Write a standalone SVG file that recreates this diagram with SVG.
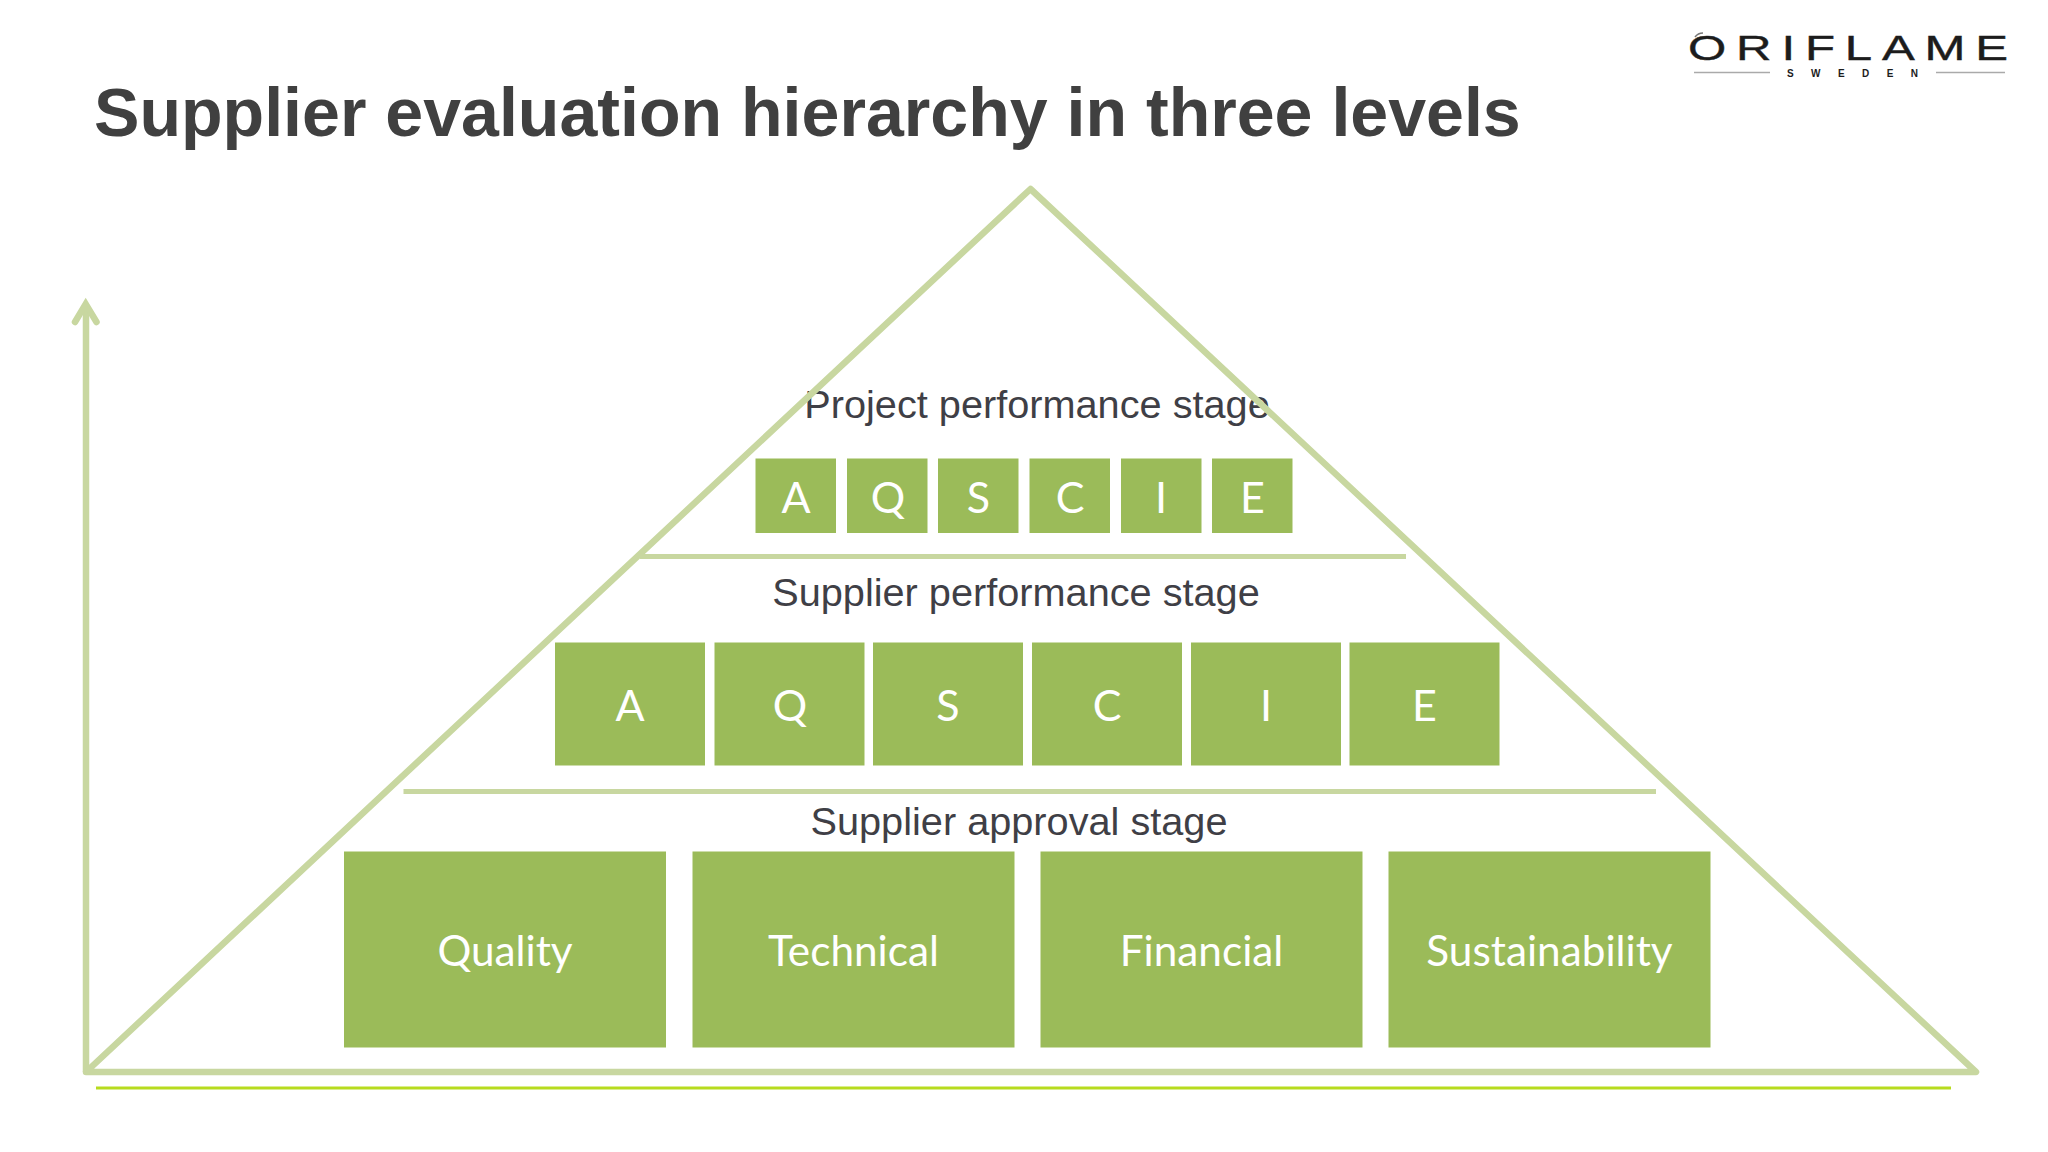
<svg xmlns="http://www.w3.org/2000/svg" width="2048" height="1152" viewBox="0 0 2048 1152">
<style>
.ln{fill:none;stroke:#c8d7a0;stroke-width:6.500;stroke-linejoin:round;stroke-linecap:round}
.dv{fill:none;stroke:#c8d7a0;stroke-width:5}
.box{fill:#9bbb59}
.lab{font-family:"Lato","Liberation Sans",sans-serif;fill:#fff;text-anchor:middle;font-weight:400}
.l1{font-size:43px}.l2{font-size:42.300px}
.st{font-family:"Liberation Sans",Arial,sans-serif;font-size:39.700px;fill:#3f3f46;text-anchor:middle}
.logo{font-family:"Liberation Sans",Arial,sans-serif;fill:#1c1c1c}
</style>
<rect width="2048" height="1152" fill="#fff"/>
<text id="title" x="94" y="135.500" font-family="'Liberation Sans',Arial,sans-serif" font-weight="700" font-size="68.100px" fill="#404040">Supplier evaluation hierarchy in three levels</text>
<g id="logo">
<text class="logo" x="1688" y="60" font-size="35px" letter-spacing="7" textLength="330" lengthAdjust="spacingAndGlyphs" stroke="#1c1c1c" stroke-width="0.400">ORIFLAME</text>
<text class="logo" x="1787" y="77" font-size="10px" textLength="131" lengthAdjust="spacing" fill="#666" font-weight="700">SWEDEN</text>
<path d="M1694 72.500H1770M1936 72.500H2005" stroke="#aaa" stroke-width="1.500" fill="none"/>
<path d="M1695 37Q1698 33 1703 33" stroke="#777" stroke-width="1.500" fill="none"/>
</g>
<g id="stage-labels">
<text class="st" x="1037" y="418">Project performance stage</text>
<text class="st" x="1016" y="605.500">Supplier performance stage</text>
<text class="st" x="1019" y="835">Supplier approval stage</text>
</g>
<g id="connectors">
<path id="axis" class="ln" style="stroke-linecap:butt" d="M86 1072V306"/>
<path id="axis-head" d="M75 322L85.700 304L96.500 322" fill="none" stroke="#c8d7a0" stroke-width="6.500" stroke-linejoin="miter" stroke-linecap="round"/>
<path id="pyramid" class="ln" d="M1030.500 189L1976 1072H86Z"/>
<path id="divider-top" class="dv" d="M640 556.500H1406"/>
<path id="divider-mid" class="dv" d="M403.500 791.500H1656"/>
<path id="ground" d="M96 1088H1951" stroke="#b7db1e" stroke-width="3" fill="none"/>
</g>
<g id="top-A"><rect class="box" x="755.500" y="458.500" width="80.500" height="74.500"/><text class="lab l1" x="796" y="513">A</text></g>
<g id="top-Q"><rect class="box" x="847" y="458.500" width="80.500" height="74.500"/><text class="lab l1" x="888" y="513">Q</text></g>
<g id="top-S"><rect class="box" x="938" y="458.500" width="80.500" height="74.500"/><text class="lab l1" x="978.500" y="513">S</text></g>
<g id="top-C"><rect class="box" x="1029.500" y="458.500" width="80.500" height="74.500"/><text class="lab l1" x="1070" y="513">C</text></g>
<g id="top-I"><rect class="box" x="1121" y="458.500" width="80.500" height="74.500"/><text class="lab l1" x="1161" y="513">I</text></g>
<g id="top-E"><rect class="box" x="1212" y="458.500" width="80.500" height="74.500"/><text class="lab l1" x="1252.500" y="513">E</text></g>
<g id="mid-A"><rect class="box" x="555" y="642.500" width="150" height="123"/><text class="lab l1" x="630" y="721">A</text></g>
<g id="mid-Q"><rect class="box" x="714.500" y="642.500" width="150" height="123"/><text class="lab l1" x="790" y="721">Q</text></g>
<g id="mid-S"><rect class="box" x="873" y="642.500" width="150" height="123"/><text class="lab l1" x="948" y="721">S</text></g>
<g id="mid-C"><rect class="box" x="1032" y="642.500" width="150" height="123"/><text class="lab l1" x="1107" y="721">C</text></g>
<g id="mid-I"><rect class="box" x="1191" y="642.500" width="150" height="123"/><text class="lab l1" x="1266" y="721">I</text></g>
<g id="mid-E"><rect class="box" x="1349.500" y="642.500" width="150" height="123"/><text class="lab l1" x="1424.500" y="721">E</text></g>
<g id="base-quality"><rect class="box" x="344" y="851.500" width="322" height="196"/><text class="lab l2" x="505" y="966">Quality</text></g>
<g id="base-technical"><rect class="box" x="692.500" y="851.500" width="322" height="196"/><text class="lab l2" x="853.500" y="966">Technical</text></g>
<g id="base-financial"><rect class="box" x="1040.500" y="851.500" width="322" height="196"/><text class="lab l2" x="1201.500" y="966">Financial</text></g>
<g id="base-sustainability"><rect class="box" x="1388.500" y="851.500" width="322" height="196"/><text class="lab l2" x="1549.500" y="966">Sustainability</text></g>
</svg>
